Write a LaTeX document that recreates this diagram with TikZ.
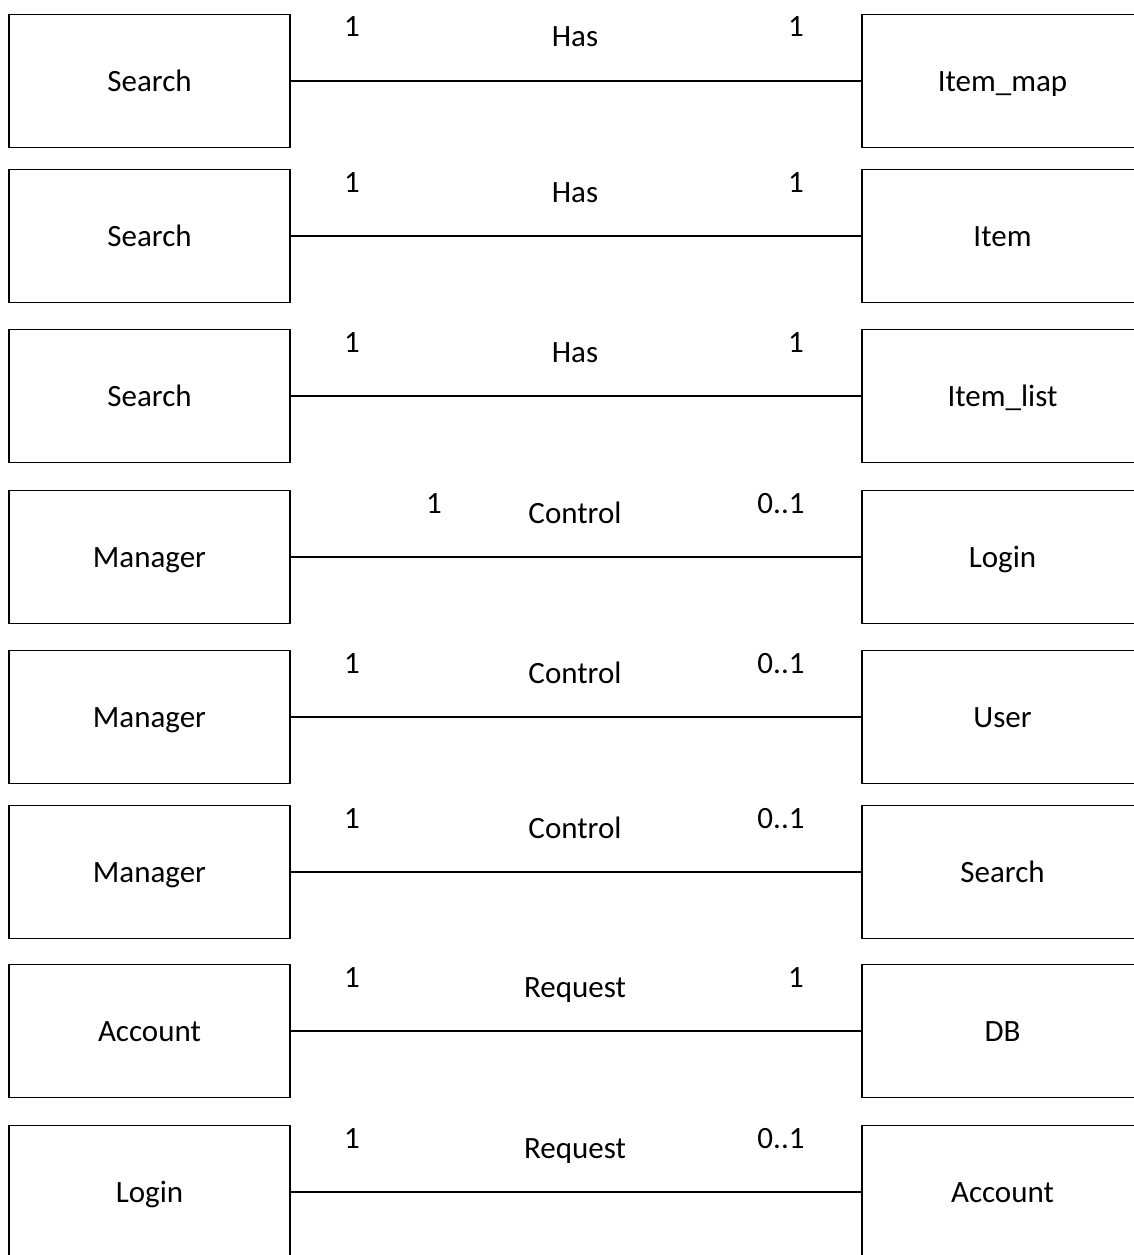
\documentclass[tikz,border=0pt]{standalone}
\usepackage{fontspec}
\setmainfont{Carlito}

\begin{document}
\begin{tikzpicture}[x=1pt, y=-1pt, line width=1.6pt,
    every node/.style={font=\fontsize{31}{37}\selectfont, inner sep=0pt, text height=20pt, text depth=0pt},
    entity/.style={draw, minimum width=281pt, minimum height=133pt}]
    \useasboundingbox (0,0) rectangle (1134,1255);
    \clip (0,0) rectangle (1134,1255);

    \begin{scope}[shift={(0,81)}]
      \node[entity] (A) at (149.5,0) {Search};
      \node[entity] (B) at (1002.5,0) {Item\_map};
      \node (ma) at (352,-54) {1};
      \node (mb) at (796,-54) {1};
      \node (rel) at (575,-44) {Has};
      \draw (A)--(B);
    \end{scope}

    \begin{scope}[shift={(0,236)}]
      \node[entity] (A) at (149.5,0) {Search};
      \node[entity] (B) at (1002.5,0) {Item};
      \node (ma) at (352,-54) {1};
      \node (mb) at (796,-54) {1};
      \node (rel) at (575,-44) {Has};
      \draw (A)--(B);
    \end{scope}

    \begin{scope}[shift={(0,396)}]
      \node[entity] (A) at (149.5,0) {Search};
      \node[entity] (B) at (1002.5,0) {Item\_list};
      \node (ma) at (352,-54) {1};
      \node (mb) at (796,-54) {1};
      \node (rel) at (575,-44) {Has};
      \draw (A)--(B);
    \end{scope}

    \begin{scope}[shift={(0,557)}]
      \node[entity] (A) at (149.5,0) {Manager};
      \node[entity] (B) at (1002.5,0) {Login};
      \node (ma) at (434,-54) {1};
      \node (mb) at (781,-54) {0..1};
      \node (rel) at (575,-44) {Control};
      \draw (A)--(B);
    \end{scope}

    \begin{scope}[shift={(0,717)}]
      \node[entity] (A) at (149.5,0) {Manager};
      \node[entity] (B) at (1002.5,0) {User};
      \node (ma) at (352,-54) {1};
      \node (mb) at (781,-54) {0..1};
      \node (rel) at (575,-44) {Control};
      \draw (A)--(B);
    \end{scope}

    \begin{scope}[shift={(0,872)}]
      \node[entity] (A) at (149.5,0) {Manager};
      \node[entity] (B) at (1002.5,0) {Search};
      \node (ma) at (352,-54) {1};
      \node (mb) at (781,-54) {0..1};
      \node (rel) at (575,-44) {Control};
      \draw (A)--(B);
    \end{scope}

    \begin{scope}[shift={(0,1031)}]
      \node[entity] (A) at (149.5,0) {Account};
      \node[entity] (B) at (1002.5,0) {DB};
      \node (ma) at (352,-54) {1};
      \node (mb) at (796,-54) {1};
      \node (rel) at (575,-44) {Request};
      \draw (A)--(B);
    \end{scope}

    \begin{scope}[shift={(0,1192)}]
      \node[entity] (A) at (149.5,0) {Login};
      \node[entity] (B) at (1002.5,0) {Account};
      \node (ma) at (352,-54) {1};
      \node (mb) at (781,-54) {0..1};
      \node (rel) at (575,-44) {Request};
      \draw (A)--(B);
    \end{scope}
\end{tikzpicture}
\end{document}
